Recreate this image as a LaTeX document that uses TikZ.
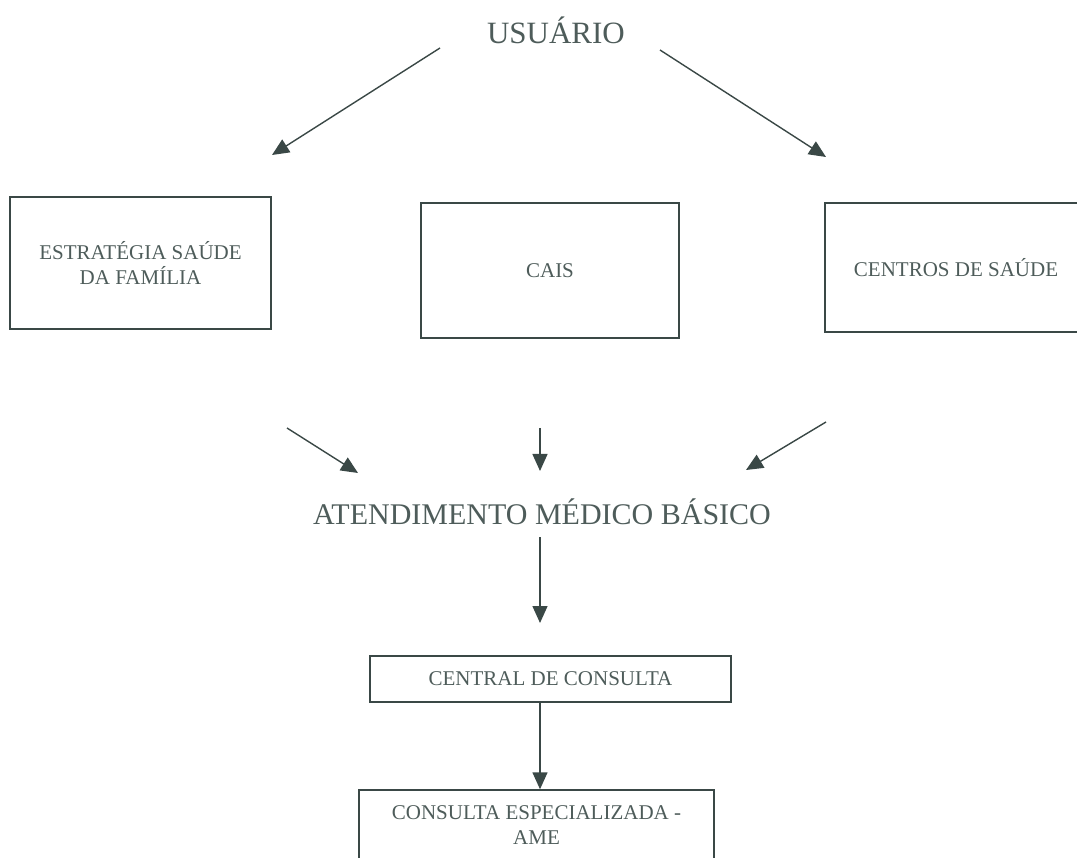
\documentclass[tikz,border=0pt]{standalone}
\usepackage{fontspec}
\setmainfont{Liberation Serif}
\usetikzlibrary{arrows.meta}
\definecolor{ink}{RGB}{58,72,70}
\definecolor{inktxt}{RGB}{78,92,90}
\tikzset{
  flowbox/.style = {draw=ink, line width=1.4pt, text=inktxt, align=center,
    inner sep=0pt, font=\fontsize{21}{25}\selectfont},
  bigtxt/.style = {text=inktxt, inner sep=0pt, font=\fontsize{31}{36}\selectfont},
  flowarr/.style = {draw=ink, line width=1.4pt,
    -{Triangle[length=17pt,width=15pt]}}
}
\begin{document}
\begin{tikzpicture}[x=1pt,y=-1pt]
\useasboundingbox (0,0) rectangle (1077,858);
% texts
\node [bigtxt, anchor=base] (usuario) at (556,44) {USUÁRIO};
\node [bigtxt, anchor=base, font=\fontsize{30}{36}\selectfont] (atend) at (542,525)
  {ATENDIMENTO MÉDICO BÁSICO};
% boxes
\node [flowbox, minimum width=261pt, minimum height=132pt] (esf) at (140.5,263)
  {ESTRATÉGIA SAÚDE\\DA FAMÍLIA};
\node [flowbox, minimum width=258pt, minimum height=135pt] (cais) at (550,270.5) {CAIS};
\node [flowbox, minimum width=262pt, minimum height=129pt] (centros) at (956,267.5)
  {CENTROS DE SAÚDE};
\node [flowbox, minimum width=361pt, minimum height=46pt] (central) at (550.5,679)
  {CENTRAL DE CONSULTA};
\node [flowbox, minimum width=355pt, minimum height=70pt] (espec) at (536.5,825)
  {CONSULTA ESPECIALIZADA -\\AME};
% arrow ends
\coordinate (u1) at (440,48);  \coordinate (e1) at (272,155);
\coordinate (u2) at (660,50);  \coordinate (c1) at (826,157);
\coordinate (e2) at (287,428); \coordinate (a1) at (358,473);
\coordinate (k2) at (540,428); \coordinate (a2) at (540,471);
\coordinate (c2) at (826,422); \coordinate (a3) at (746,470);
\coordinate (a4) at (540,537); \coordinate (m1) at (540,623);
% arrows
\draw [flowarr] (u1) -- (e1);
\draw [flowarr] (u2) -- (c1);
\draw [flowarr] (e2) -- (a1);
\draw [flowarr] (k2) -- (a2);
\draw [flowarr] (c2) -- (a3);
\draw [flowarr] (a4) -- (m1);
\draw [flowarr] (central.south -| m1) -- (espec.north -| m1);
\end{tikzpicture}
\end{document}
